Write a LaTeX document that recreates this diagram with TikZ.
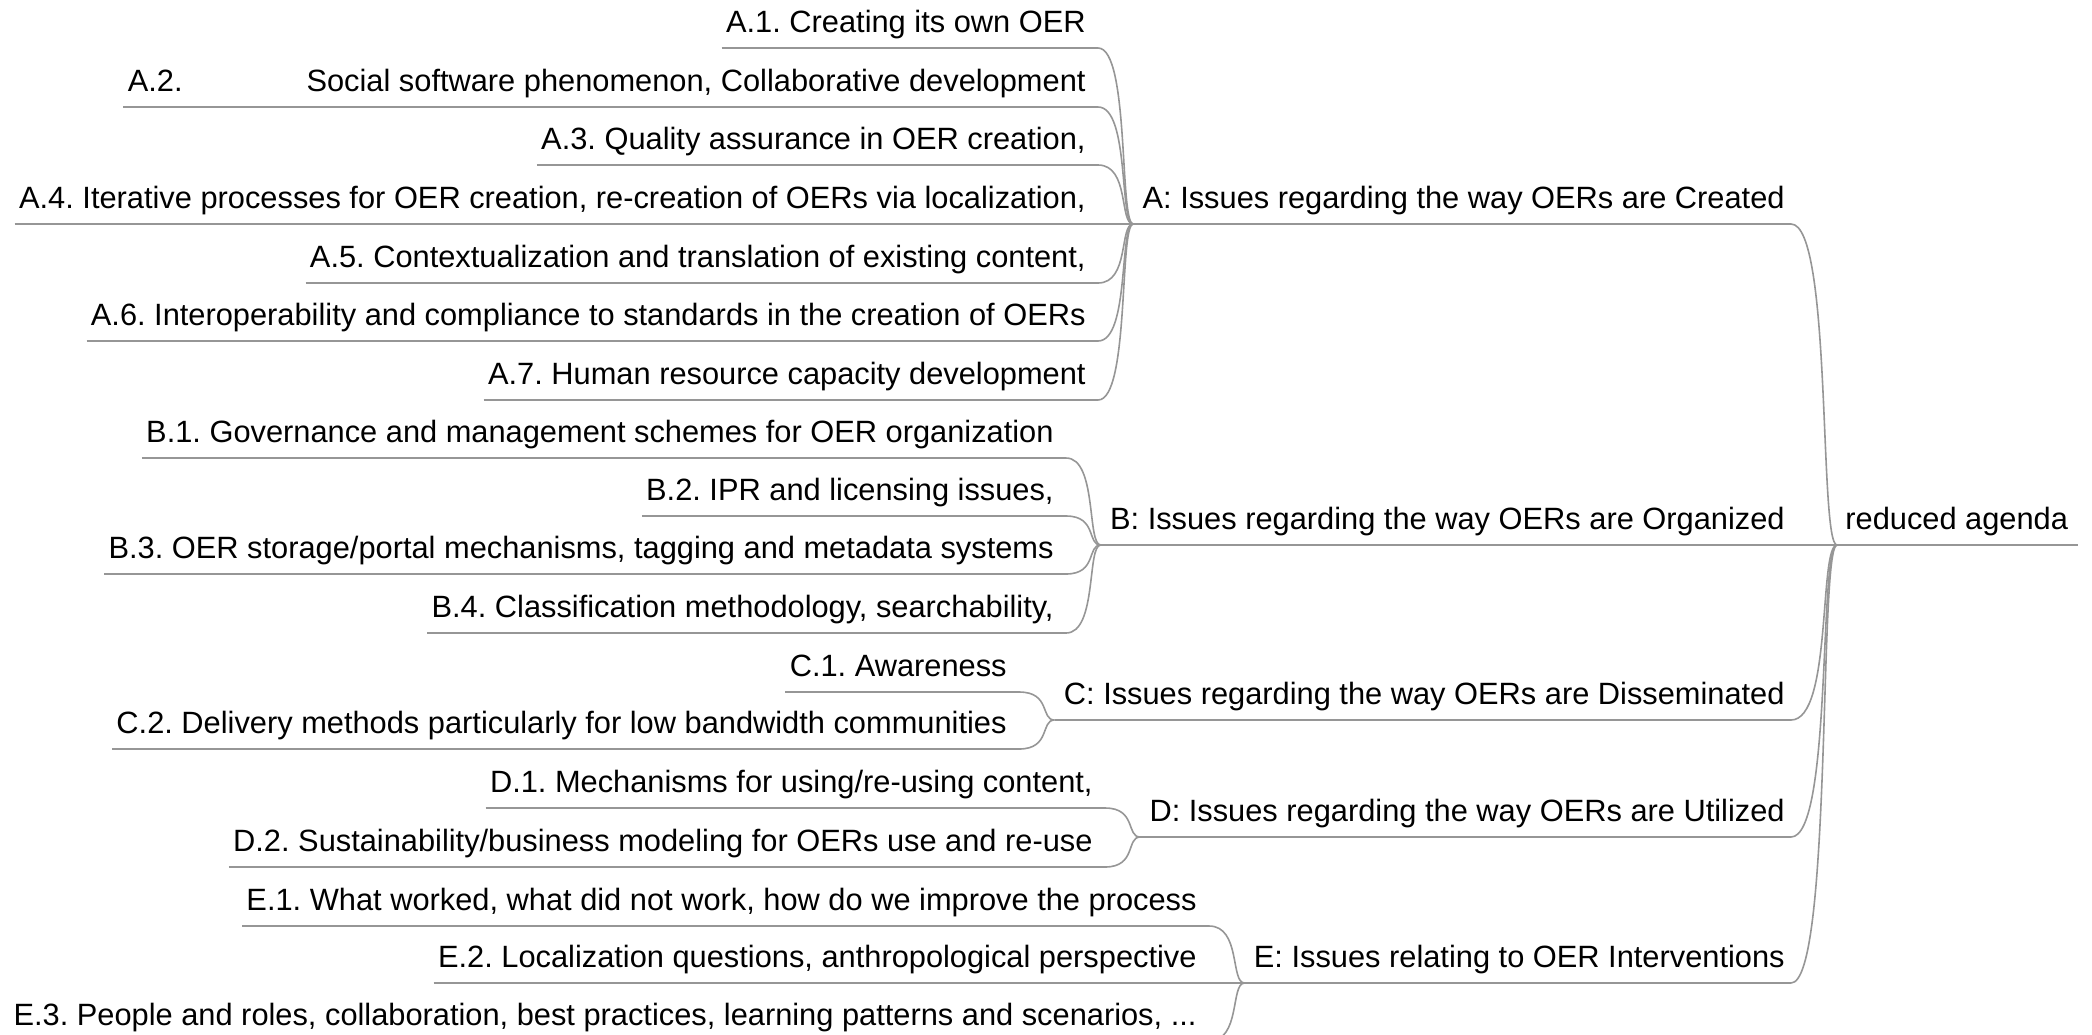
\documentclass[tikz,border=0pt]{standalone}
\usepackage{fontspec}
\setmainfont{Liberation Sans}
\usetikzlibrary{calc}
\definecolor{lncol}{RGB}{150,150,150}
\frenchspacing
\begin{document}
\begin{tikzpicture}[x=0.5pt,y=-0.5pt,
  txt/.style={inner xsep=0pt, inner ysep=3.5pt, text height=11pt, text depth=4pt,
    font=\fontsize{15.4}{18}\selectfont\frenchspacing, text=black},
  leaf/.style={txt, anchor=south east,
    execute at begin node={\hspace*{2pt}}, execute at end node={\hspace*{6pt}}},
  cat/.style={txt, anchor=south east,
    execute at begin node={\hspace*{4.5pt}}, execute at end node={\hspace*{3pt}}},
  rootn/.style={txt, anchor=south west,
    execute at begin node={\hspace*{4pt}}, execute at end node={\hspace*{5pt}}},
  ln/.style={draw=lncol, line width=0.8pt},
  bcurve/.style={to path={let \p1=(\tikztostart), \p2=(\tikztotarget) in
    .. controls ({\x1+0.9*(\x2-\x1)},\y1) and ({\x1+0.6*(\x2-\x1)},\y2) .. (\tikztotarget)}}
]
\useasboundingbox (0,0) rectangle (2092,1034);
\clip (0,0) rectangle (2092,1034);

% root
\node[rootn] (root) at (1837,545) {reduced agenda};

% categories
\node[cat] (A) at (1791,224) {A: Issues regarding the way OERs are Created};
\node[cat] (B) at (1791,545) {B: Issues regarding the way OERs are Organized};
\node[cat] (C) at (1791,720) {C: Issues regarding the way OERs are Disseminated};
\node[cat] (D) at (1791,837) {D: Issues regarding the way OERs are Utilized};
\node[cat] (E) at (1791,983) {E: Issues relating to OER Interventions};

% leaves A
\node[leaf] (a1) at (1098,48)  {A.1. Creating its own OER};
\node[leaf] (a2) at (1098,107) {A.2.\hspace*{62pt}Social software phenomenon, Collaborative development};
\node[leaf] (a3) at (1098,165) {A.3. Quality assurance in OER creation,};
\node[leaf] (a4) at (1098,224) {A.4. Iterative processes for OER creation, re-creation of OERs via localization,};
\node[leaf] (a5) at (1098,283) {A.5. Contextualization and translation of existing content,};
\node[leaf] (a6) at (1098,341) {A.6. Interoperability and compliance to standards in the creation of OERs};
\node[leaf] (a7) at (1098,400) {A.7. Human resource capacity development};
% leaves B
\node[leaf] (b1) at (1066,458) {B.1. Governance and management schemes for OER organization};
\node[leaf] (b2) at (1066,516) {B.2. IPR and licensing issues,};
\node[leaf] (b3) at (1066,574) {B.3. OER storage/portal mechanisms, tagging and metadata systems};
\node[leaf] (b4) at (1066,633) {B.4. Classification methodology, searchability,};
% leaves C
\node[leaf] (c1) at (1019,692) {C.1. Awareness};
\node[leaf] (c2) at (1019,749) {C.2. Delivery methods particularly for low bandwidth communities};
% leaves D
\node[leaf] (d1) at (1105,808) {D.1. Mechanisms for using/re-using content,};
\node[leaf] (d2) at (1105,867) {D.2. Sustainability/business modeling for OERs use and re-use};
% leaves E
\node[leaf] (e1) at (1209,926)  {E.1. What worked, what did not work, how do we improve the process};
\node[leaf] (e2) at (1209,983)  {E.2. Localization questions, anthropological perspective};
\node[leaf] (e3) at (1209,1041) {E.3. People and roles, collaboration, best practices, learning patterns and scenarios, ...};

% underlines
\foreach \n in {root,A,B,C,D,E,a1,a2,a3,a4,a5,a6,a7,b1,b2,b3,b4,c1,c2,d1,d2,e1,e2,e3}
  \draw[ln] (\n.south west) -- (\n.south east);

% connectors
\foreach \n in {A,B,C,D,E}
  \draw[ln] (\n.south east) to[bcurve] (root.south west);
\foreach \n in {a1,a2,a3,a4,a5,a6,a7}
  \draw[ln] (\n.south east) to[bcurve] (A.south west);
\foreach \n in {b1,b2,b3,b4}
  \draw[ln] (\n.south east) to[bcurve] (B.south west);
\foreach \n in {c1,c2}
  \draw[ln] (\n.south east) to[bcurve] (C.south west);
\foreach \n in {d1,d2}
  \draw[ln] (\n.south east) to[bcurve] (D.south west);
\foreach \n in {e1,e2,e3}
  \draw[ln] (\n.south east) to[bcurve] (E.south west);
\end{tikzpicture}
\end{document}
